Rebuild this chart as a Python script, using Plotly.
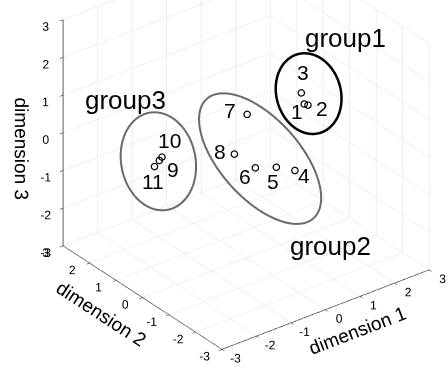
import numpy as np
import plotly.graph_objects as go

# ---- data ----
labels = ["1", "2", "3", "4", "5", "6", "7", "8", "9", "10", "11"]
dim1 = [2.0, 2.1, 1.9, 1.7, 1.2, 0.6, 0.3, -0.2, -1.6, -1.5, -1.7]
dim2 = [0.42, 0.41, 0.40, 0.38, 0.43, 0.44, 0.36, 0.19, 1.20, 1.23, 1.25]
dim3 = [0.19, 0.13, 0.53, -1.45, -1.21, -1.02, 0.54, -0.26, -0.40, -0.36, -0.55]
groups = {"group1": [0, 1, 2], "group2": [3, 4, 5, 6, 7], "group3": [8, 9, 10]}
ticks = [-3, -2, -1, 0, 1, 2, 3]

# ---- style ----
FONT = "Arial, Liberation Sans, sans-serif"
AZ, EL = np.radians(-37.5), np.radians(30.0)
EYE_DIST = 2.0
BOX = 1.415
PX_PER_NORM = 183.7
SHIFT_RIGHT, SHIFT_UP = 22.0, 39.5   # move scene origin on screen (px)
label_shift = {"1": (-7, -8), "2": (14, -3), "3": (2, 20), "4": (9, -5), "5": (-3, -14),
               "6": (-10, -9), "7": (-17, 4), "8": (-14, 2), "9": (14, -9), "10": (8, 17),
               "11": (-1, -15)}
# ellipse: (offset right, offset up in view plane, semi-major, semi-minor, angle deg below horizontal, colour, width)
ell_style = {"group1": (0.10, 0.16, 0.94, 0.74, 74.5, "black", 5),
             "group2": (-0.03, -0.09, 1.84, 0.915, 48.2, "#6a6a6a", 4),
             "group3": (0.0, 0.0, 1.135, 0.855, 79.1, "#6a6a6a", 4)}
group_label_pos = {"group1": (345, 38), "group2": (330, 246), "group3": (125, 100)}  # px

# view basis (orthographic camera)
d_h = np.array([np.sin(-AZ), np.cos(-AZ)])
right = np.array([d_h[1], -d_h[0], 0.0])
up = np.array([np.sin(EL) * d_h[0], np.sin(EL) * d_h[1], np.cos(EL)])
eye_dir = np.array([-d_h[0], -d_h[1], np.tan(EL)])
eye_dir = eye_dir / np.linalg.norm(eye_dir) * EYE_DIST
cam_c = -(SHIFT_RIGHT * right + SHIFT_UP * up) / PX_PER_NORM
cam_e = cam_c + eye_dir

P = np.array([dim1, dim2, dim3]).T
fig = go.Figure()

t = np.linspace(0, 2 * np.pi, 200)
for g, idx in groups.items():
    ox, oy, a, b, ang, col, w = ell_style[g]
    c = P[idx].mean(axis=0) + ox * right + oy * up
    th = np.radians(ang)
    e1 = np.cos(th) * right - np.sin(th) * up
    e2 = np.sin(th) * right + np.cos(th) * up
    pts = c[None, :] + np.outer(a * np.cos(t), e1) + np.outer(b * np.sin(t), e2)
    fig.add_trace(go.Scatter3d(x=pts[:, 0], y=pts[:, 1], z=pts[:, 2], mode="lines",
                               line=dict(color=col, width=w), hoverinfo="skip",
                               showlegend=False))

fig.add_trace(go.Scatter3d(x=dim1, y=dim2, z=dim3, mode="markers",
                           marker=dict(symbol="circle-open", size=4, color="black",
                                       line=dict(width=1, color="black")),
                           showlegend=False, hovertext=labels))

annots = []
for i, lab in enumerate(labels):
    sx, sy = label_shift[lab]
    annots.append(dict(x=dim1[i], y=dim2[i], z=dim3[i], text=lab, showarrow=False,
                       xshift=sx, yshift=sy, font=dict(family=FONT, size=21, color="black")))

axis_common = dict(range=[-3, 3], tickvals=ticks, ticktext=[str(v) for v in ticks],
                   showbackground=False, showgrid=True, gridcolor="#dedede", gridwidth=1,
                   showline=True, linecolor="black", linewidth=1.5, zeroline=False,
                   ticks="outside", ticklen=4, tickcolor="black", tickangle=0,
                   tickfont=dict(family=FONT, size=12, color="black"), showspikes=False)

grp_font = dict(family=FONT, size=26, color="black")
paper_annots = [dict(text=g, x=px / 448, y=1 - py / 369, xref="paper", yref="paper",
                     showarrow=False, xanchor="center", yanchor="middle", font=grp_font)
                for g, (px, py) in group_label_pos.items()]

fig.update_layout(
    width=448, height=369, margin=dict(l=0, r=0, t=0, b=0),
    paper_bgcolor="white",
    scene=dict(
        domain=dict(x=[0, 1], y=[0, 1]),
        xaxis=dict(axis_common, title=dict(text="dimension 1", font=dict(family=FONT, size=19, color="black"))),
        yaxis=dict(axis_common, title=dict(text="dimension 2", font=dict(family=FONT, size=19, color="black"))),
        zaxis=dict(axis_common, title=dict(text="dimension 3", font=dict(family=FONT, size=19, color="black"))),
        aspectmode="manual", aspectratio=dict(x=BOX, y=BOX, z=BOX),
        camera=dict(eye=dict(x=cam_e[0], y=cam_e[1], z=cam_e[2]),
                    up=dict(x=0, y=0, z=1), center=dict(x=cam_c[0], y=cam_c[1], z=cam_c[2]),
                    projection=dict(type="orthographic")),
        annotations=annots,
    ),
    annotations=paper_annots,
)

fig.write_html("out.html", config={"displayModeBar": False},
               post_script="document.body.style.margin='0';")
